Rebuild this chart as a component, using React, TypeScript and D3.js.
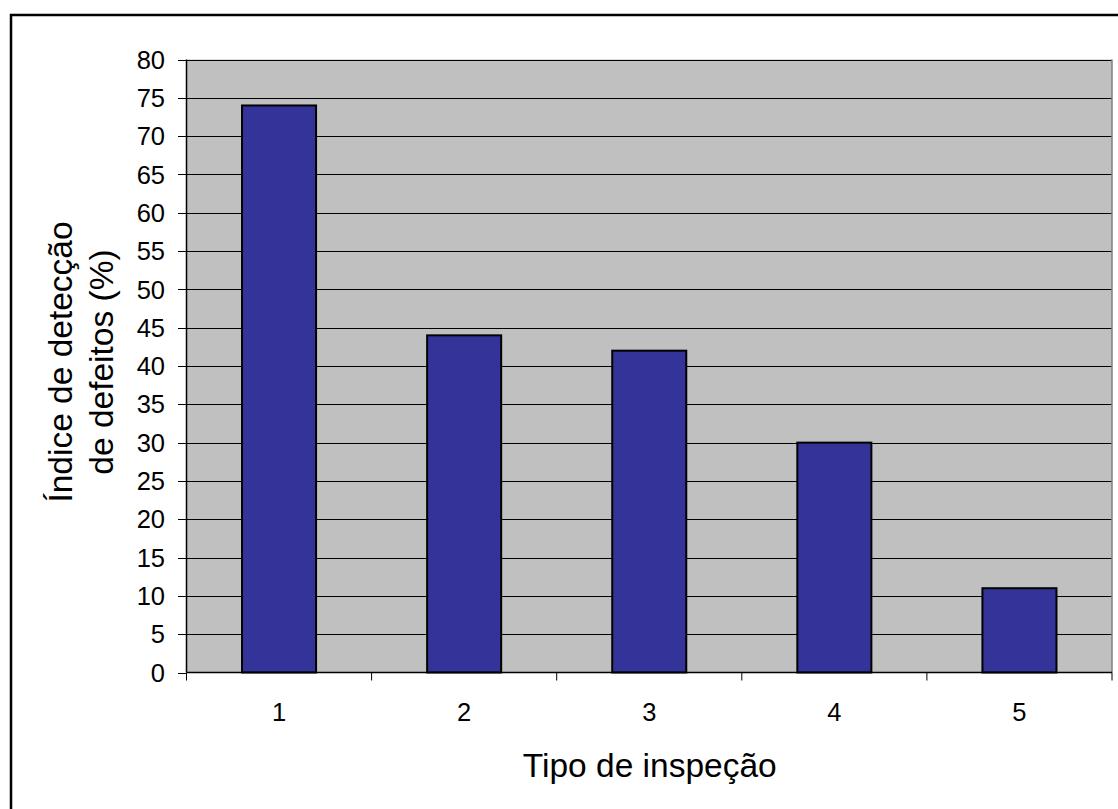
import React from "react";
import * as d3 from "d3";

const categories = ["1", "2", "3", "4", "5"];
const values = [74, 44, 42, 30, 11];
const yTicks = d3.range(0, 81, 5);

export default function App() {
  const W = 1118, H = 809;
  const left = 186.5, right = 1112, top = 59.5, bottom = 672.5;
  const x = d3.scaleBand().domain(categories).range([left, right]).paddingInner(0.6).paddingOuter(0.3);
  const xb = d3.scaleBand().domain(categories).range([left, right]);
  const y = d3.scaleLinear().domain([0, 80]).range([bottom, top]);
  const font = "Liberation Sans, Arial, sans-serif";
  return (
    <svg width={W} height={H} style={{ position: "absolute", left: 0, top: 0 }} fontFamily={font}>
      <rect x={0} y={0} width={W} height={H} fill="#fff" />
      <rect x={11} y={15} width={W + 10} height={H + 10} fill="none" stroke="#000" strokeWidth={2.5} />
      <rect x={left} y={top} width={right - left} height={bottom - top} fill="#C0C0C0" />
      {yTicks.map(t => (
        <g key={t}>
          {t > 0 && <line x1={left} x2={right} y1={Math.round(y(t)) + 0.5} y2={Math.round(y(t)) + 0.5} stroke="#000" strokeWidth={1} />}
          <line x1={178} x2={left} y1={Math.round(y(t)) + 0.5} y2={Math.round(y(t)) + 0.5} stroke="#000" strokeWidth={1} />
          <text x={165} y={y(t)} dy="0.36em" textAnchor="end" fontSize={25.5}>{t}</text>
        </g>
      ))}
      <line x1={right} x2={right} y1={top} y2={bottom} stroke="#808080" strokeWidth={1.5} />
      {categories.map((c, i) => (
        <rect key={c} x={x(c)} y={y(values[i])} width={x.bandwidth()} height={bottom - y(values[i])}
          fill="#333399" stroke="#000" strokeWidth={2} />
      ))}
      <line x1={left} x2={left} y1={top} y2={bottom} stroke="#000" strokeWidth={1.5} />
      <line x1={left} x2={right} y1={bottom} y2={bottom} stroke="#000" strokeWidth={1.5} />
      {categories.concat(["end"]).map((c, i) => {
        const xx = i < categories.length ? xb(c)! : right;
        return <line key={"t" + i} x1={xx} x2={xx} y1={bottom} y2={bottom + 8} stroke="#000" strokeWidth={1} />;
      })}
      {categories.map(c => (
        <text key={"l" + c} x={xb(c)! + xb.bandwidth() / 2} y={721} textAnchor="middle" fontSize={25.5}>{c}</text>
      ))}
      <text x={(left + right) / 2 + 0.5} y={777} textAnchor="middle" fontSize={33.5}>Tipo de inspeção</text>
      <g transform={`translate(0, ${362}) rotate(-90)`}>
        <text x={0} y={72} textAnchor="middle" fontSize={33.5}>Índice de detecção</text>
        <text x={0} y={113} textAnchor="middle" fontSize={33.5}>de defeitos (%)</text>
      </g>
    </svg>
  );
}
